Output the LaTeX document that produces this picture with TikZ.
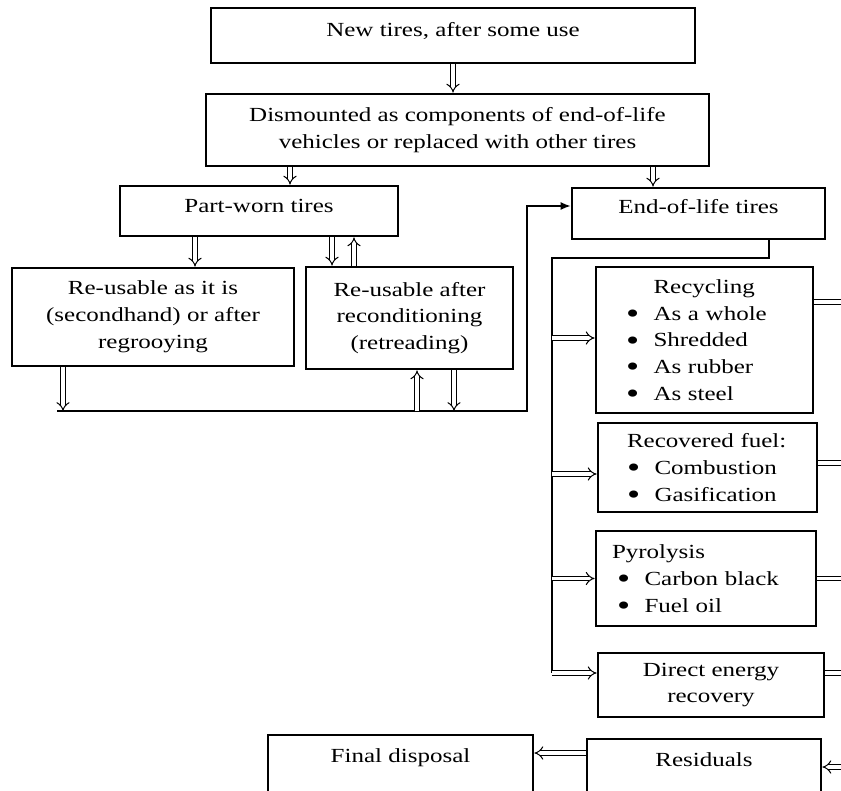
\documentclass[tikz,border=0pt]{standalone}
\usepackage{fontspec}
\setmainfont[FakeStretch=1.25]{Liberation Serif}
\usetikzlibrary{arrows.meta}

\newdimen\pxl
\pxl=0.5pt
\newcommand{\bul}{\makebox[13.75pt][l]{\smash{\raisebox{-1.6pt}{\scalebox{1.5}{\textbullet}}}}}

\begin{document}
\begin{tikzpicture}[x=0.5pt, y=-0.5pt,
    font=\fontsize{10}{13.4}\selectfont,
    box/.style={
        draw,
        line width=1.4pt,
        inner sep=0pt,
        align=center
    },
    oneline/.style={
        text height=6.9pt,
        text depth=#1
    },
    listbox/.style={
        box,
        align=left,
        inner xsep=#1
    },
    dbl/.style={
        double,
        double distance=1.8pt,
        line width=0.5pt,
        -{Implies}
    },
    wire/.style={
        line width=0.7pt
    }
]
\useasboundingbox (0,0) rectangle (841,791);

%------------------------------------------------
% Cajas
%------------------------------------------------
\node[box, oneline=6.1pt, minimum width=484\pxl, minimum height=55\pxl] (new) at (453,35.5)
    {New tires, after some use};
\node[box, minimum width=503\pxl, minimum height=72\pxl] (dism) at (457.5,130)
    {Dismounted as components of end-of-life\\vehicles or replaced with other tires};
\node[box, oneline=5.1pt, minimum width=278\pxl, minimum height=50\pxl] (pw) at (259,211)
    {Part-worn tires};
\node[box, oneline=6.6pt, minimum width=253\pxl, minimum height=51\pxl] (eol) at (698.5,213.5)
    {End-of-life tires};
\node[box, minimum width=282\pxl, minimum height=98\pxl] (ru1) at (153,317)
    {Re-usable as it is\\(secondhand) or after\\regrooying};
\node[box, minimum width=207\pxl, minimum height=102\pxl] (ru2) at (409.5,318)
    {Re-usable after\\reconditioning\\(retreading)};

\node[listbox=15pt, text width=157\pxl, minimum height=146\pxl] (rec) at (704.5,340)
    {\hspace*{13.75pt}Recycling\\\bul As a whole\\\bul Shredded\\\bul As rubber\\\bul As steel};
\node[listbox=14.5pt, text width=161\pxl, minimum height=89\pxl] (fuel) at (707.5,467.5)
    {Recovered fuel:\\\bul Combustion\\\bul Gasification};
\node[listbox=8pt, text width=188\pxl, minimum height=95\pxl] (pyr) at (706,578.5)
    {Pyrolysis\\\hspace*{2.5pt}\bul Carbon black\\\hspace*{2.5pt}\bul Fuel oil};
\node[box, minimum width=226\pxl, minimum height=64\pxl] (dir) at (711,685)
    {Direct energy\\recovery};
\node[box, oneline=7.1pt, minimum width=234\pxl, minimum height=56\pxl] (res) at (704,767)
    {Residuals};
\node[box, oneline=9.1pt, minimum width=265\pxl, minimum height=60\pxl] (fin) at (400.5,765)
    {Final disposal};

%------------------------------------------------
% Flechas entre las cajas de arriba
%------------------------------------------------
\draw[dbl] (new.south) -- (new.south |- dism.north);

\path (pw.north) ++(31,0) coordinate (pwin);
\draw[dbl] (pwin |- dism.south) -- (pwin);
\path (eol.north) ++(-45.5,0) coordinate (eolin);
\draw[dbl] (eolin |- dism.south) -- (eolin);

\path (ru1.north) ++(42,0) coordinate (ru1in);
\draw[dbl] (ru1in |- pw.south) -- (ru1in);
\path (ru2.north) ++(-77.5,0) coordinate (ru2in);
\draw[dbl] (ru2in |- pw.south) -- (ru2in);
\path (ru2.north) ++(-55.5,0) coordinate (ru2back);
\draw[dbl] (ru2back) -- (ru2back |- pw.south);

%------------------------------------------------
% Linea de abajo hacia End-of-life
%------------------------------------------------
\coordinate (busL) at (57,411);
\coordinate (busR) at (527,411);
\coordinate (busT) at (527,206);
\draw[wire, -{Latex[length=5pt,width=4pt]}] (busL) -- (busR) -- (busT) -- (busT -| eol.west);

\path (ru1.south) ++(-90,0) coordinate (ru1out);
\draw[dbl] (ru1out) -- (ru1out |- busL);
\path (ru2.south) ++(7.5,0) coordinate (ru2up);
\draw[dbl] (ru2up |- busL) -- (ru2up);
\path (ru2.south) ++(44.5,0) coordinate (ru2out);
\draw[dbl] (ru2out) -- (ru2out |- busL);

%------------------------------------------------
% Tratamientos
%------------------------------------------------
\path (eol.south) ++(70.5,0) coordinate (eolout);
\coordinate (trunk) at (552,258);
\path (dir.west) ++(0,-12) coordinate (dirin);
\draw[wire] (eolout) -- (eolout |- trunk) -- (trunk) -- (trunk |- dirin);

\path (rec.west) ++(0,-2) coordinate (recin);
\draw[dbl] (trunk |- recin) -- (recin);
\path (fuel.west) ++(0,6.5) coordinate (fuelin);
\draw[dbl] (trunk |- fuelin) -- (fuelin);
\draw[dbl] (trunk |- pyr.west) -- (pyr.west);
\draw[dbl] (trunk |- dirin) -- (dirin);

% salidas por la derecha
\coordinate (edge) at (852,0);
\path (rec.east) ++(0,-38) coordinate (recout);
\draw[dbl] (recout) -- (recout -| edge);
\path (fuel.east) ++(0,-4.5) coordinate (fuelout);
\draw[dbl] (fuelout) -- (fuelout -| edge);
\draw[dbl] (pyr.east) -- (pyr.east -| edge);
\path (dir.east) ++(0,-12) coordinate (dirout);
\draw[dbl] (dirout) -- (dirout -| edge);
\draw[dbl] (res.east -| edge) -- (res.east);

\path (res.west) ++(0,-14) coordinate (resout);
\draw[dbl] (resout) -- (resout -| fin.east);

\end{tikzpicture}
\end{document}
